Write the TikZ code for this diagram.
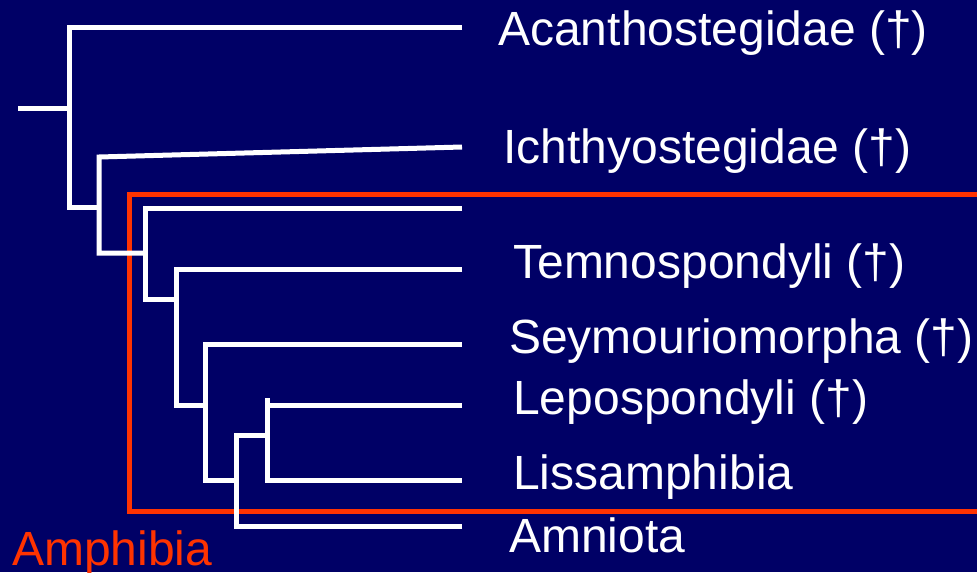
\documentclass[tikz,border=0pt]{standalone}
\usepackage{fontspec}
\setmainfont{Liberation Sans}
\definecolor{bgnavy}{HTML}{000066}
\definecolor{boxred}{HTML}{FF3300}
\begin{document}
\begin{tikzpicture}[x=0.75pt,y=-0.75pt,
  branch/.style={draw=white,line width=3.75pt,line join=miter},
  redbox/.style={draw=boxred,line width=3.75pt,line join=miter},
  taxon/.style={anchor=base west,inner sep=0pt,text=white,font=\fontsize{36}{42}\selectfont},
  grouplabel/.style={anchor=base west,inner sep=0pt,text=boxred,font=\fontsize{36}{42}\selectfont}]
\useasboundingbox (0,0) rectangle (977,572);
\clip (0,0) rectangle (977,572);
\fill[bgnavy] (0,0) rectangle (977,572);
% tips
\coordinate (tA) at (462,27);
\coordinate (tI) at (462,147);
\coordinate (tX) at (462,208);
\coordinate (tT) at (462,269);
\coordinate (tS) at (462,344);
\coordinate (tL) at (462,405);
\coordinate (tLi) at (462,480);
\coordinate (tAm) at (462,526);
% internal nodes
\coordinate (root) at (18,108);
\coordinate (n1) at (69,108);
% red box
\draw[redbox] (990,194) -- (129,194) -- (129,511) -- (990,511);
% tree
\draw[branch] (root) -- (n1);
\draw[branch] (tA) -- (69,27) -- (69,207) -- (99,207);
\draw[branch] (tI) -- (99,157) -- (99,253) -- (145,253);
\draw[branch] (tX) -- (145,208) -- (145,299) -- (176,299);
\draw[branch] (tT) -- (176,269) -- (176,405) -- (205,405);
\draw[branch] (tS) -- (205,344) -- (205,480) -- (236,480);
\draw[branch] (tAm) -- (236,526) -- (236,435) -- (267,435);
\draw[branch] (tL) -- (267,405);
\draw[branch] (267,398) -- (267,480) -- (tLi);
% labels
\node[taxon] (lA) at (498,45) {Acanthostegidae (†)};
\node[taxon] (lI) at (503,163) {Ichthyostegidae (†)};
\node[taxon] (lT) at (513,278) {Temnospondyli (†)};
\node[taxon] (lS) at (509,353) {Seymouriomorpha (†)};
\node[taxon] (lL) at (513,414) {Lepospondyli (†)};
\node[taxon] (lLi) at (513,489) {Lissamphibia};
\node[taxon] (lAm) at (509,552) {Amniota};
\node[grouplabel] (amph) at (12,565) {Amphibia};
\end{tikzpicture}
\end{document}
